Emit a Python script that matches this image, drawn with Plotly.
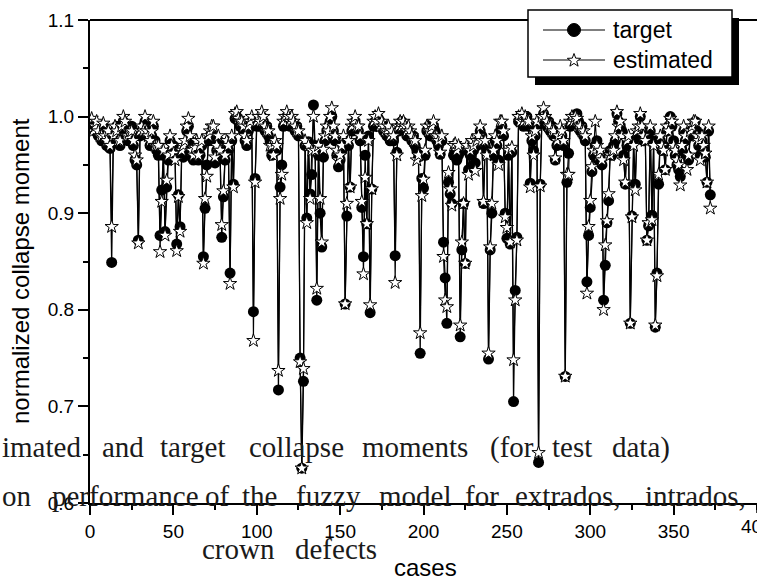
import math
import plotly.graph_objects as go

# ---------------- data ----------------
cases = list(range(1, 373))

target = [
    0.995, 0.99, 0.985, 0.99, 0.98, 0.985, 0.975, 0.99, 0.985, 0.97,
    0.98, 0.967, 0.849, 0.975, 0.985, 0.99, 0.98, 0.97, 0.985, 0.995,
    0.99, 0.985, 0.975, 0.98, 0.99, 0.97, 0.955, 0.95, 0.872, 0.98,
    0.985, 0.99, 0.995, 0.98, 0.985, 0.97, 0.98, 0.99, 0.975, 0.965,
    0.96, 0.877, 0.924, 0.96, 0.881, 0.927, 0.955, 0.975, 0.965, 0.97,
    0.962, 0.868, 0.919, 0.886, 0.96, 0.958, 0.965, 0.985, 0.99, 0.975,
    0.958, 0.955, 0.96, 0.965, 0.955, 0.96, 0.97, 0.855, 0.905, 0.95,
    0.975, 0.98, 0.985, 0.975, 0.952, 0.965, 0.975, 0.96, 0.875, 0.917,
    0.955, 0.97, 0.965, 0.838, 0.975, 0.93, 0.998, 1.0, 0.995, 0.99,
    0.99, 0.985, 0.975, 0.97, 0.985, 0.99, 0.995, 0.798, 0.936, 0.99,
    0.995, 0.99, 1.0, 0.995, 0.985, 0.99, 0.98, 0.975, 0.96, 0.965,
    0.97, 0.965, 0.717, 0.927, 0.95, 0.99, 0.995, 1.0, 0.995, 0.99,
    0.995, 0.99, 0.985, 0.99, 0.98, 0.75, 0.636, 0.726, 0.97, 0.895,
    0.974, 0.92, 0.94, 1.012, 0.97, 0.81, 0.96, 0.9, 0.865, 0.958,
    0.975, 0.985, 0.99, 0.995, 1.0, 0.985, 0.975, 0.96, 0.948, 0.955,
    0.965, 0.975, 0.806, 0.897, 0.97, 0.927, 0.985, 0.99, 0.995, 0.985,
    0.985, 0.975, 0.906, 0.855, 0.96, 0.889, 0.98, 0.797, 0.925, 0.99,
    0.995, 0.99, 0.998, 0.995, 0.99, 0.985, 0.99, 0.98, 0.985, 0.975,
    0.98, 0.975, 0.856, 0.963, 0.985, 0.99, 0.995, 0.99, 0.985, 0.98,
    0.985, 0.98, 0.975, 0.98, 0.97, 0.965, 0.958, 0.755, 0.936, 0.926,
    0.96, 0.985, 0.99, 0.98, 0.985, 0.99, 0.985, 0.975, 0.97, 0.961,
    0.975, 0.87, 0.833, 0.786, 0.932, 0.92, 0.91, 0.96, 0.965, 0.955,
    0.96, 0.772, 0.862, 0.91, 0.848, 0.965, 0.945, 0.96, 0.97, 0.965,
    0.952, 0.97, 0.975, 0.985, 0.98, 0.91, 0.97, 0.965, 0.749, 0.862,
    0.9, 0.96, 0.975, 0.97, 0.955, 0.985, 0.99, 0.98, 0.9, 0.874,
    0.96, 0.868, 0.963, 0.705, 0.82, 0.875, 0.995, 1.0, 0.998, 0.99,
    0.995, 1.0, 0.99, 0.931, 0.975, 0.965, 0.98, 0.99, 0.642, 0.93,
    0.995, 1.003, 0.998, 0.99, 0.995, 0.985, 0.99, 0.98, 0.955, 0.97,
    0.975, 0.985, 0.98, 0.97, 0.731, 0.932, 0.962, 0.99, 0.995, 1.0,
    0.995, 1.003, 0.995, 0.985, 0.99, 0.98, 0.975, 0.829, 0.877, 0.906,
    0.943, 0.96, 0.97, 0.975, 0.955, 0.96, 0.95, 0.81, 0.846, 0.89,
    0.913, 0.965, 0.96, 0.97, 0.975, 1.003, 0.995, 0.99, 0.985, 0.96,
    0.93, 0.97, 0.975, 0.786, 0.897, 0.975, 0.93, 0.98, 0.985, 1.0,
    0.985, 0.975, 0.98, 0.872, 0.887, 0.985, 0.898, 0.975, 0.782, 0.838,
    0.93, 0.975, 0.965, 0.97, 0.945, 0.985, 0.99, 1.0, 0.99, 0.975,
    0.96, 0.95, 0.945, 0.938, 0.965, 0.985, 0.975, 0.96, 0.955, 0.98,
    0.985, 0.99, 0.995, 0.985, 0.97, 0.96, 0.975, 0.965, 0.958, 0.932,
    0.985, 0.919,
]

estimated = [
    0.998, 0.985, 0.99, 0.995, 0.985, 0.98, 0.98, 0.993, 0.98, 0.975,
    0.985, 0.97, 0.886, 0.98, 0.99, 0.985, 0.975, 0.975, 0.99, 1.0,
    0.995, 0.98, 0.98, 0.985, 0.985, 0.975, 0.96, 0.955, 0.869, 0.985,
    0.99, 0.985, 1.0, 0.985, 0.98, 0.975, 0.985, 0.995, 0.97, 0.97,
    0.97, 0.86, 0.912, 0.965, 0.877, 0.934, 0.96, 0.98, 0.97, 0.962,
    0.955, 0.861, 0.917, 0.881, 0.965, 0.97, 0.975, 0.99, 0.998, 0.98,
    0.965, 0.96, 0.968, 0.975, 0.96, 0.97, 0.975, 0.848, 0.915, 0.938,
    0.98, 0.985, 0.99, 0.99, 0.958, 0.97, 0.98, 0.965, 0.888, 0.923,
    0.96, 0.975, 0.97, 0.827, 0.98, 0.927, 1.003, 1.005, 0.998, 0.995,
    0.995, 0.99, 0.98, 0.975, 0.99, 0.995, 1.0, 0.768, 0.932, 0.995,
    1.0, 0.995, 1.005, 1.0, 0.99, 0.985, 0.985, 0.97, 0.97, 0.96,
    0.975, 0.97, 0.737, 0.915, 0.94, 0.995, 1.0, 1.005, 1.0, 0.995,
    1.0, 0.995, 0.99, 0.985, 0.985, 0.746, 0.636, 0.739, 0.975, 0.89,
    0.97, 0.915, 0.965, 1.0, 0.965, 0.822, 0.97, 0.915, 0.87, 0.966,
    0.98, 0.99, 0.985, 1.0, 1.009, 0.99, 0.98, 0.965, 0.955, 0.96,
    0.97, 0.98, 0.806, 0.91, 0.975, 0.927, 0.99, 0.995, 1.0, 0.99,
    0.99, 0.98, 0.912, 0.837, 0.937, 0.889, 0.975, 0.805, 0.925, 0.995,
    1.0, 0.995, 1.003, 0.99, 0.995, 0.99, 0.985, 0.985, 0.99, 0.98,
    0.985, 0.98, 0.828, 0.96, 0.99, 0.995, 0.99, 0.995, 0.99, 0.985,
    0.99, 0.985, 0.98, 0.975, 0.975, 0.955, 0.96, 0.776, 0.918, 0.935,
    0.965, 0.99, 0.985, 0.985, 0.99, 0.995, 0.98, 0.98, 0.975, 0.963,
    0.98, 0.855, 0.81, 0.803, 0.942, 0.925, 0.908, 0.97, 0.972, 0.965,
    0.97, 0.784, 0.87, 0.91, 0.848, 0.97, 0.94, 0.965, 0.975, 0.97,
    0.944, 0.975, 0.98, 0.99, 0.975, 0.912, 0.975, 0.96, 0.755, 0.865,
    0.91, 0.965, 0.98, 0.975, 0.95, 0.995, 0.995, 0.985, 0.896, 0.885,
    0.965, 0.87, 0.968, 0.748, 0.81, 0.872, 1.0, 0.995, 1.003, 0.995,
    1.0, 0.995, 0.995, 0.927, 0.98, 0.96, 0.985, 0.995, 0.652, 0.928,
    1.0, 1.009, 1.0, 0.995, 0.99, 0.99, 0.985, 0.985, 0.957, 0.975,
    0.98, 0.99, 0.985, 0.975, 0.731, 0.94, 0.94, 0.995, 1.0, 0.995,
    1.0, 0.998, 0.99, 0.99, 0.985, 0.985, 0.98, 0.817, 0.886, 0.913,
    0.948, 0.965, 0.995, 0.97, 0.96, 0.965, 0.955, 0.8, 0.867, 0.892,
    0.92, 0.96, 0.965, 0.965, 0.98, 1.005, 0.99, 0.995, 0.98, 0.955,
    0.932, 0.975, 0.98, 0.786, 0.896, 0.97, 0.924, 0.985, 0.99, 1.003,
    0.99, 0.98, 0.975, 0.872, 0.89, 0.99, 0.893, 0.97, 0.784, 0.835,
    0.94, 0.98, 0.97, 0.965, 0.945, 0.99, 0.985, 0.998, 0.995, 0.97,
    0.965, 0.955, 0.95, 0.929, 0.97, 0.99, 0.98, 0.945, 0.96, 0.985,
    0.99, 0.995, 0.995, 0.98, 0.975, 0.955, 0.98, 0.97, 0.962, 0.932,
    0.99, 0.905,
]

x_tick_vals = [0, 50, 100, 150, 200, 250, 300, 350]
x_edge_tick = 400
y_tick_vals = [0.6, 0.7, 0.8, 0.9, 1.0, 1.1]
series_names = ["target", "estimated"]

caption_line1 = ["imated", "and", "target", "collapse", "moments", "(for", "test", "data)"]
caption_line2 = ["on", "performance", "of", "the", "fuzzy", "model", "for", "extrados,", "intrados,"]
caption_line3 = ["crown", "defects"]

# ---------------- layout helpers ----------------
W, H = 757, 581
PL, PR, PT, PB = 90, 757, 20, 503


def fx(p):
    return (p - PL) / (PR - PL)


def fy(p):
    return (PB - p) / (PB - PT)


SANS = "Arial, Liberation Sans, Helvetica, sans-serif"
SERIF = "Liberation Serif, Times New Roman, DejaVu Serif, serif"

fig = go.Figure()
fig.add_trace(go.Scatter(
    x=cases, y=target, name=series_names[0], mode="lines+markers",
    line=dict(color="black", width=1.3),
    marker=dict(symbol="circle", size=11, color="black"),
    showlegend=False,
))
fig.add_trace(go.Scatter(
    x=cases, y=estimated, name=series_names[1], mode="lines+markers",
    line=dict(color="black", width=1.1),
    marker=dict(symbol="star", size=10, color="white",
                line=dict(color="black", width=1)),
    showlegend=False,
))

shapes = []
# top frame line
shapes.append(dict(type="line", xref="paper", yref="paper", x0=0, x1=1, y0=1, y1=1,
                   line=dict(color="black", width=2), layer="above"))
# tick at the right edge (x = 400)
shapes.append(dict(type="line", xref="x", yref="paper", x0=x_edge_tick, x1=x_edge_tick,
                   y0=0, y1=fy(PB + 10), line=dict(color="black", width=1.5)))

# custom legend
lx0, ly0, lx1, ly1 = 528, 10, 732, 77
shapes.append(dict(type="rect", xref="paper", yref="paper",
                   x0=fx(lx0 + 7), x1=fx(lx1 + 7), y0=fy(ly1 + 8), y1=fy(ly0 + 8),
                   fillcolor="black", line=dict(width=0), layer="above"))
shapes.append(dict(type="rect", xref="paper", yref="paper",
                   x0=fx(lx0), x1=fx(lx1), y0=fy(ly1), y1=fy(ly0),
                   fillcolor="white", line=dict(color="black", width=1.5), layer="above"))
rows = [30, 60]
for ry in rows:
    shapes.append(dict(type="line", xref="paper", yref="paper",
                       x0=fx(543), x1=fx(605), y0=fy(ry), y1=fy(ry),
                       line=dict(color="black", width=1.2), layer="above"))
mx = 574
r = 6.5
shapes.append(dict(type="circle", xref="paper", yref="paper",
                   x0=fx(mx - r), x1=fx(mx + r), y0=fy(rows[0] + r), y1=fy(rows[0] - r),
                   fillcolor="black", line=dict(color="black", width=1), layer="above"))
pts = []
ro, ri = 7.0, 2.9
for k in range(10):
    ang = -math.pi / 2 + k * math.pi / 5
    rr = ro if k % 2 == 0 else ri
    pts.append((fx(mx + rr * math.cos(ang)), fy(rows[1] + 0.5 + rr * math.sin(ang))))
path = "M " + " L ".join(f"{a:.5f},{b:.5f}" for a, b in pts) + " Z"
shapes.append(dict(type="path", xref="paper", yref="paper", path=path,
                   fillcolor="white", line=dict(color="black", width=1), layer="above"))

annotations = []
for name, ry in zip(series_names, rows):
    annotations.append(dict(text=name, xref="paper", yref="paper", x=fx(611), y=fy(ry),
                            xanchor="left", yanchor="middle", showarrow=False,
                            font=dict(family=SANS, size=23, color="black")))

# edge tick label (cut by the page edge, as in the reference)
annotations.append(dict(text=str(x_edge_tick), xref="x", yref="paper", x=x_edge_tick,
                        y=fy(526), xanchor="center", yanchor="middle", showarrow=False,
                        font=dict(family=SANS, size=19, color="black")))

# axis titles
annotations.append(dict(text="normalized collapse moment", xref="paper", yref="paper",
                        x=fx(20), y=fy(271), textangle=-90, xanchor="center", yanchor="middle",
                        showarrow=False, font=dict(family=SANS, size=24, color="black")))
annotations.append(dict(text="cases", xref="paper", yref="paper",
                        x=fx(425), y=fy(567), xanchor="center", yanchor="middle",
                        showarrow=False, font=dict(family=SANS, size=24, color="black")))

# overlapping caption text (serif)
line1_x = [0, 100, 158, 247, 360, 488, 550, 610]
line2_x = [0, 50, 203, 240, 294, 377, 463, 513, 643]
line3_x = [200, 293]
for words, xs, cy in [(caption_line1, line1_x, 447),
                      (caption_line2, line2_x, 496),
                      (caption_line3, line3_x, 549)]:
    for w, x0 in zip(words, xs):
        annotations.append(dict(text=w, xref="paper", yref="paper", x=fx(x0), y=fy(cy),
                                xanchor="left", yanchor="middle", showarrow=False,
                                font=dict(family=SERIF, size=29, color="#1a1a1a")))

axis_common = dict(
    showgrid=False, zeroline=False, showline=True, linecolor="black", linewidth=2,
    ticks="outside", ticklen=10, tickwidth=1.5, tickcolor="black",
    tickfont=dict(family=SANS, size=19, color="black"), mirror=False,
    automargin=False,
)

fig.update_layout(
    width=W, height=H,
    margin=dict(l=PL, r=W - PR, t=PT, b=H - PB, pad=0, autoexpand=False),
    paper_bgcolor="white", plot_bgcolor="white",
    shapes=shapes, annotations=annotations,
    showlegend=False,
    xaxis=dict(range=[0, 400], tickvals=x_tick_vals,
               minor=dict(dtick=25, ticklen=5, ticks="outside", tickcolor="black", tickwidth=1.5),
               **axis_common),
    yaxis=dict(range=[0.6, 1.1], tickvals=y_tick_vals, tickformat=".1f",
               minor=dict(dtick=0.05, ticklen=5, ticks="outside", tickcolor="black", tickwidth=1.5),
               **axis_common),
)

fig.write_html("out.html")
